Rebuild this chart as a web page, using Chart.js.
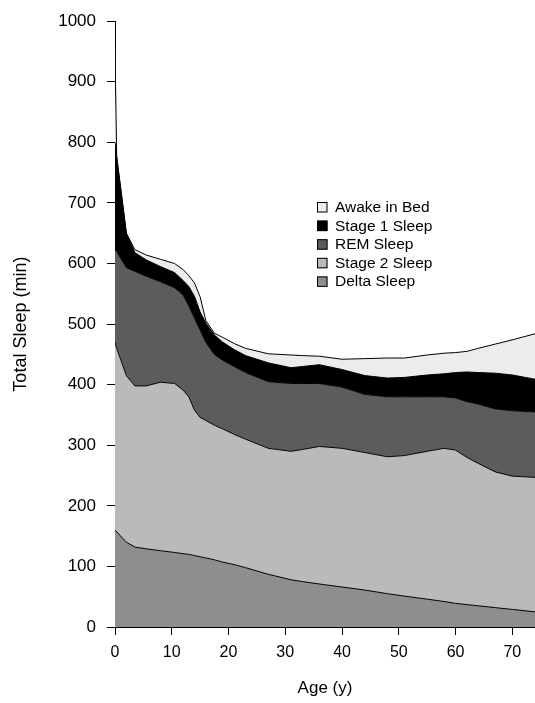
<!DOCTYPE html>
<html>
<head>
<meta charset="utf-8">
<script src="https://cdn.jsdelivr.net/npm/chart.js@4"></script>
<style>
  html, body { margin: 0; padding: 0; background: #fff; }
  #wrap { width: 535px; height: 703px; position: relative; }
</style>
</head>
<body>
<div id="wrap"><canvas id="chart"></canvas></div>
<script>
// ages (years) where the band boundaries were read
const ages = [0, 0.3, 2, 3.5, 5.5, 8, 10.5, 12, 13, 14, 15, 16, 17.5, 19, 21, 23, 27, 31, 33, 36, 40, 44, 48, 51, 55, 58, 60, 62, 64, 67, 70, 74]

// top edge of each band, in minutes (cumulative)
const deltaTop  = [160, 157, 140, 132, 129, 126, 123, 121, 120, 118, 116, 114, 111, 107, 103, 98, 87, 78, 75, 71, 66, 61, 55, 51, 46, 42, 39, 37, 35, 32, 29, 25]
const stage2Top = [470, 460, 415, 398, 398, 404, 402, 391, 380, 358, 346, 341, 333, 327, 318, 310, 295, 290, 293, 298, 295, 288, 281, 283, 290, 295, 292, 280, 270, 256, 249, 247]
const remTop    = [623, 620, 593, 587, 579, 570, 560, 548, 530, 510, 490, 470, 450, 440, 430, 420, 405, 402, 402, 402, 396, 384, 380, 380, 380, 380, 378, 372, 368, 360, 357, 355]
const stage1Top = [800, 776, 650, 618, 606, 595, 585, 572, 562, 546, 520, 502, 482, 470, 458, 448, 436, 428, 430, 433, 425, 415, 411, 412, 416, 418, 420, 421, 420, 419, 416, 409]
const awakeTop  = [955, 776, 650, 623, 614, 607, 600, 590, 580, 568, 545, 506, 485, 478, 468, 460, 451, 449, 448, 447, 442, 443, 444, 444, 449, 452, 453, 455, 460, 467, 474, 484]

const bandNames = ['Delta Sleep', 'Stage 2 Sleep', 'REM Sleep', 'Stage 1 Sleep', 'Awake in Bed']
const bandTops = [deltaTop, stage2Top, remTop, stage1Top, awakeTop]
const bandColors = ['#8e8e8e', '#bababa', '#5c5c5c', '#000000', '#ececec']

const yTicks = [0, 100, 200, 300, 400, 500, 600, 700, 800, 900, 1000]
const xTicks = [0, 10, 20, 30, 40, 50, 60, 70]

const FONT = "'Liberation Sans', Arial, sans-serif"

const datasets = bandNames.map((name, i) => ({
  label: name,
  data: ages.map((a, j) => ({x: a, y: bandTops[i][j]})),
  backgroundColor: bandColors[i],
  borderColor: '#000',
  borderWidth: 1,
  pointRadius: 0,
  tension: 0,
  fill: i === 0 ? 'origin' : '-1'
}))

// legend drawn inside the plot, top to bottom in reverse stacking order
const insideLegend = {
  id: 'insideLegend',
  afterDraw(chart) {
    const ctx = chart.ctx
    const left = 317, top = 202, rowH = 18.6, box = 10.5
    ctx.save()
    ctx.font = '15.5px ' + FONT
    ctx.textBaseline = 'middle'
    ctx.textAlign = 'left'
    const order = [...chart.data.datasets].reverse()
    order.forEach((ds, k) => {
      const y = top + k * rowH
      ctx.fillStyle = ds.backgroundColor
      ctx.fillRect(left, y, box, box)
      ctx.strokeStyle = '#000'
      ctx.lineWidth = 1
      ctx.strokeRect(left + 0.5, y + 0.5, box - 1, box - 1)
      ctx.fillStyle = '#000'
      ctx.fillText(ds.label, left + 18, y + box / 2 + 0.5)
    })
    ctx.restore()
  }
}

new Chart(document.getElementById('chart'), {
  type: 'line',
  data: {datasets: datasets},
  options: {
    responsive: true,
    maintainAspectRatio: false,
    animation: false,
    devicePixelRatio: 1,
    layout: {padding: {left: 6, top: 17, right: 0, bottom: 0}},
    plugins: {
      legend: {display: false},
      tooltip: {enabled: false},
      filler: {drawTime: 'beforeDatasetsDraw'}
    },
    scales: {
      x: {
        type: 'linear',
        min: 0,
        max: 74,
        border: {color: '#000', width: 1},
        grid: {drawOnChartArea: false, tickLength: 8, tickColor: '#000'},
        afterBuildTicks: s => { s.ticks = xTicks.map(v => ({value: v})) },
        afterFit: s => { s.height = 76 },
        ticks: {color: '#000', font: {family: FONT, size: 16}, padding: 8, maxRotation: 0},
        title: {display: true, text: 'Age (y)', color: '#000', font: {family: FONT, size: 17}, padding: {top: 4, bottom: 4}}
      },
      y: {
        min: 0,
        max: 1000,
        border: {color: '#000', width: 1},
        grid: {drawOnChartArea: false, tickLength: 8, tickColor: '#000'},
        afterBuildTicks: s => { s.ticks = yTicks.map(v => ({value: v})) },
        afterFit: s => { s.width = 109 },
        ticks: {color: '#000', font: {family: FONT, size: 17}, padding: 11, callback: v => String(v)},
        title: {display: true, text: 'Total Sleep (min)', color: '#000', font: {family: FONT, size: 18}, padding: {top: 4, bottom: 4}}
      }
    }
  },
  plugins: [insideLegend]
})
</script>
</body>
</html>
